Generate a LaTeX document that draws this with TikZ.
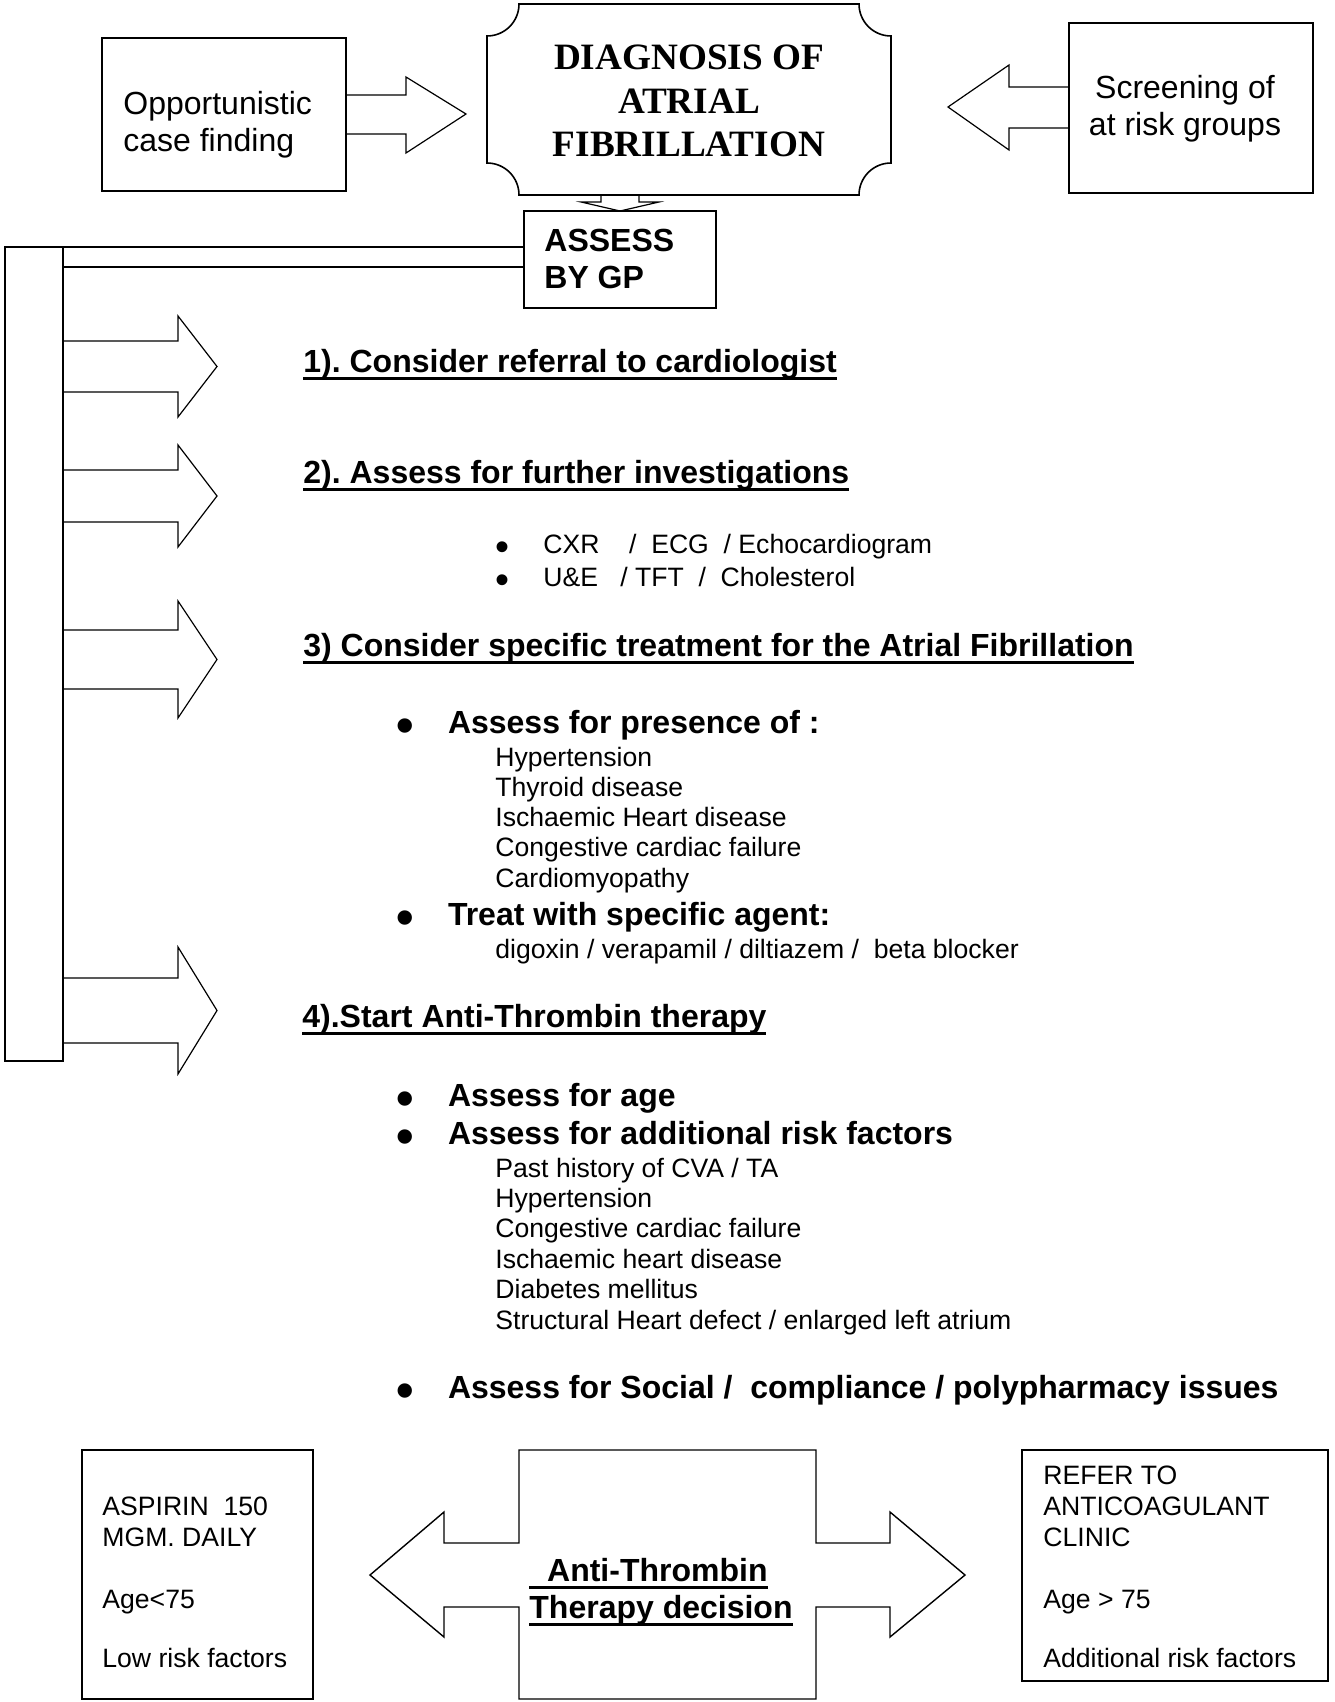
\documentclass[tikz,border=0pt]{standalone}
\usepackage{fontspec}
\setmainfont{Liberation Sans}
\newfontfamily\timesfont{Liberation Serif}
\frenchspacing

\newsavebox{\ulbox}
\newcommand{\thickul}[1]{\sbox{\ulbox}{#1}\rlap{\vrule height -2.4pt depth 4.2pt width \wd\ulbox}\usebox{\ulbox}}
\newcommand{\bigbullet}[1]{\makebox[22.8pt][l]{\hspace{1.6pt}\makebox[0pt]{\smash{\raisebox{-4.9pt}{\fontsize{25}{25}\selectfont\textbullet}}}}#1}
\newcommand{\smallbullet}[1]{\makebox[22.5pt][l]{\hspace{1.8pt}\makebox[0pt]{\smash{\raisebox{-3.9pt}{\fontsize{20}{20}\selectfont\textbullet}}}}#1}
\newcommand{\normalsz}{\fontsize{16}{18}\selectfont}
\newcommand{\smallsz}{\fontsize{13.3}{15.2}\selectfont}

\tikzset{
  box/.style={draw, line width=0.8pt},
  blockarrow/.style={draw, line width=0.6pt, line join=miter},
  txt/.style={inner sep=0pt, anchor=base west, font=\normalsz},
  smalltxt/.style={txt, font=\smallsz},
  heading/.style={txt, font=\normalsz\bfseries},
  diagtitle/.style={inner sep=0pt, anchor=base, font=\timesfont\bfseries\fontsize{18.6}{21.5}\selectfont}
}

\begin{document}
\begin{tikzpicture}[x=0.5pt,y=-0.5pt]
\fill[white] (0,0) rectangle (1334,1702);

% top row
\draw[box] (102,38) rectangle (346,191);
\node[txt] (opp1) at (123,115) {Opportunistic};
\node[txt] (opp2) at (123,151) {case finding};
\draw[blockarrow] (346,95) -- (406,95) -- (406,77) -- (466,114) -- (406,153) -- (406,134) -- (346,134);

\draw[box] (519,4) -- (859,4) .. controls (859,21.7) and (873.3,36) .. (891,36)
  -- (891,163) .. controls (873.3,163) and (859,177.3) .. (859,195)
  -- (519,195) .. controls (519,177.3) and (504.7,163) .. (487,163)
  -- (487,36) .. controls (504.7,36) and (519,21.7) .. (519,4) -- cycle;
\node[diagtitle] (diag1) at (689,70) {DIAGNOSIS OF};
\node[diagtitle] (diag2) at (689,113) {ATRIAL};
\node[diagtitle] (diag3) at (689,156) {FIBRILLATION};

\draw[box] (1069,23) rectangle (1313,193);
\node[txt, anchor=base] (scr1) at (1185,98) {Screening of};
\node[txt, anchor=base] (scr2) at (1185,135) {at risk groups};
\draw[blockarrow] (1069,87) -- (1009,87) -- (1009,65) -- (948,107) -- (1009,150) -- (1009,128) -- (1069,128);

% down to GP
\draw[blockarrow] (601,195) -- (601,202) -- (581,202) -- (620,211) -- (659,202) -- (639,202) -- (639,195);
\draw[box] (524,211) rectangle (716,308);
\node[heading] (gp1) at (544,251) {ASSESS};
\node[heading] (gp2) at (544,288) {BY GP};

% side bar and arrows
\draw[box] (524,247) -- (5,247) -- (5,1061) -- (63,1061) -- (63,247);
\draw[box] (63,267) -- (524,267);
\foreach \st/\sb/\ht/\hb in {341/392/316/417, 470/522/445/547, 630/689/601/718, 978/1043/947/1074}
  \draw[blockarrow] (63,\st) -- (178,\st) -- (178,\ht) -- (217,{(\ht+\hb)/2}) -- (178,\hb) -- (178,\sb) -- (63,\sb);

% steps
\node[heading] (step1) at (303,372) {\thickul{1). Consider referral to cardiologist}};
\node[heading] (step2) at (303,483) {\thickul{2). Assess for further investigations}};
\node[smalltxt] (inv1) at (498,553) {\smallbullet{CXR\ \ \ \ /\ \ ECG\ \ / Echocardiogram}};
\node[smalltxt] (inv2) at (498,586) {\smallbullet{U\&E\ \ \ / TFT\ \ /\ \ Cholesterol}};

\node[heading] (step3) at (303,656) {\thickul{3) Consider specific treatment for the Atrial Fibrillation}};
\node[heading] (pres) at (402,733) {\bigbullet{Assess for presence of :}};
\foreach \entry [count=\i] in {Hypertension, Thyroid disease, Ischaemic Heart disease, Congestive cardiac failure, Cardiomyopathy}
  \node[smalltxt] (cond\i) at (495,{766+30.25*(\i-1)}) {\entry};
\node[heading] (treat) at (402,925) {\bigbullet{Treat with specific agent:}};
\node[smalltxt] (agents) at (495,958) {digoxin / verapamil / diltiazem /\ \ beta blocker};

\node[heading] (step4) at (302,1027) {\thickul{4).Start Anti-Thrombin therapy}};
\node[heading] (age) at (402,1106) {\bigbullet{Assess for age}};
\node[heading] (risk) at (402,1144) {\bigbullet{Assess for additional risk factors}};
\foreach \entry [count=\i] in {Past history of CVA / TA, Hypertension, Congestive cardiac failure, Ischaemic heart disease, Diabetes mellitus, Structural Heart defect / enlarged left atrium}
  \node[smalltxt] (rf\i) at (495,{1177+30.4*(\i-1)}) {\entry};
\node[heading] (social) at (402,1398) {\bigbullet{Assess for Social /\ \ compliance / polypharmacy issues}};

% decision
\draw[box] (82,1450) rectangle (313,1699);
\foreach \entry/\yb [count=\i] in {ASPIRIN\ \ 150/1515, MGM. DAILY/1546, Age<75/1608, Low risk factors/1667}
  \node[smalltxt] (asp\i) at (102,\yb) {\entry};

\draw[blockarrow, line width=0.7pt] (519,1543) -- (519,1450) -- (816,1450) -- (816,1543) -- (890,1543) -- (890,1512)
  -- (965,1575) -- (890,1637) -- (890,1607) -- (816,1607) -- (816,1699) -- (519,1699) -- (519,1607)
  -- (444,1607) -- (444,1637) -- (370,1575) -- (444,1512) -- (444,1543) -- cycle;
\node[heading] (dec1) at (529,1581) {\thickul{\ \ Anti-Thrombin}};
\node[heading] (dec2) at (529,1618) {\thickul{Therapy decision}};

\draw[box] (1022,1450) rectangle (1328,1681);
\foreach \entry/\yb [count=\i] in {REFER TO/1484, ANTICOAGULANT/1515, CLINIC/1546, Age > 75/1608, Additional risk factors/1667}
  \node[smalltxt] (ref\i) at (1043,\yb) {\entry};
\end{tikzpicture}
\end{document}
